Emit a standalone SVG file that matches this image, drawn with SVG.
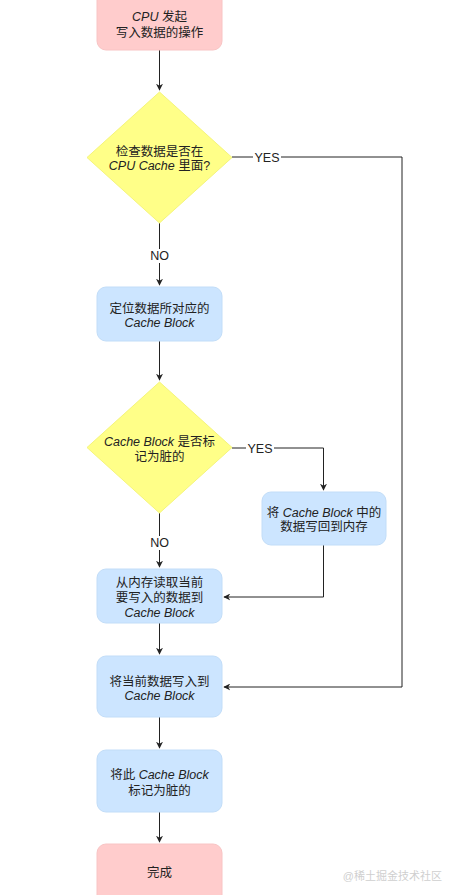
<svg xmlns="http://www.w3.org/2000/svg" width="456" height="895" viewBox="0 0 456 895">
<style>
.t{font-family:"Liberation Sans","Noto Sans CJK SC",sans-serif;font-size:12.5px;fill:#222;text-anchor:middle;dominant-baseline:central}
.l{font-family:"Liberation Sans","Noto Sans CJK SC",sans-serif;font-size:12.5px;fill:#222;text-anchor:middle;dominant-baseline:central}
.i{font-style:italic}
.pink{fill:#ffcccc;stroke:#f8c4c4;stroke-width:1}
.blue{fill:#cce5ff;stroke:#c2ddf8;stroke-width:1}
.yel{fill:#ffff88;stroke:#f5f57a;stroke-width:1}
.c{fill:none;stroke:#222;stroke-width:1}
</style>
<defs>
<marker id="a" viewBox="0 0 10 10" refX="9" refY="5" markerWidth="7" markerHeight="7" markerUnits="userSpaceOnUse" orient="auto">
<path d="M0,0 L10,5 L0,10 L3,5 Z" fill="#222"/>
</marker>
</defs>
<rect width="456" height="895" fill="#ffffff"/>
<g id="connectors">
<path class="c" d="M159.5,50 V90" marker-end="url(#a)"/>
<path class="c" d="M159.5,223 V285" marker-end="url(#a)"/>
<path class="c" d="M159.5,341 V380" marker-end="url(#a)"/>
<path class="c" d="M159.5,513 V567" marker-end="url(#a)"/>
<path class="c" d="M159.5,623 V654" marker-end="url(#a)"/>
<path class="c" d="M159.5,717 V748" marker-end="url(#a)"/>
<path class="c" d="M159.5,812 V842" marker-end="url(#a)"/>
<path class="c" d="M232,157 H402 V687 H224" marker-end="url(#a)"/>
<path class="c" d="M232,448 H323.5 V490" marker-end="url(#a)"/>
<path class="c" d="M323.5,545 V597 H224" marker-end="url(#a)"/>
<rect x="253" y="150" width="28" height="14" fill="#fff"/>
<text class="l" x="267" y="157.5">YES</text>
<rect x="147" y="249" width="25" height="14" fill="#fff"/>
<text class="l" x="159.5" y="256">NO</text>
<rect x="246" y="441" width="28" height="14" fill="#fff"/>
<text class="l" x="260" y="448.5">YES</text>
<rect x="147" y="536" width="25" height="14" fill="#fff"/>
<text class="l" x="159.5" y="543">NO</text>
</g>
<g id="start">
<rect class="pink" x="97" y="-12" width="125" height="62" rx="9"/>
<text class="t" x="159.5" y="17"><tspan class="i">CPU</tspan> 发起</text>
<text class="t" x="159.5" y="33">写入数据的操作</text>
</g>
<g id="check-cache">
<path class="yel" d="M159.5,92 L232,157.5 L159.5,223 L87,157.5 Z"/>
<text class="t" x="159.5" y="152">检查数据是否在</text>
<text class="t" x="159.5" y="166"><tspan class="i">CPU Cache</tspan> 里面?</text>
</g>
<g id="locate-block">
<rect class="blue" x="97" y="287" width="125" height="54" rx="9"/>
<text class="t" x="159.5" y="309">定位数据所对应的</text>
<text class="t i" x="159.5" y="323">Cache Block</text>
</g>
<g id="check-dirty">
<path class="yel" d="M159.5,382 L232,447.5 L159.5,513 L87,447.5 Z"/>
<text class="t" x="159.5" y="442"><tspan class="i">Cache Block</tspan> 是否标</text>
<text class="t" x="159.5" y="457">记为脏的</text>
</g>
<g id="write-back">
<rect class="blue" x="262" y="492" width="124" height="53" rx="9"/>
<text class="t" x="324" y="513">将 <tspan class="i">Cache Block</tspan> 中的</text>
<text class="t" x="324" y="527">数据写回到内存</text>
</g>
<g id="read-memory">
<rect class="blue" x="97" y="569" width="125" height="54" rx="9"/>
<text class="t" x="159.5" y="583">从内存读取当前</text>
<text class="t" x="159.5" y="598">要写入的数据到</text>
<text class="t i" x="159.5" y="613">Cache Block</text>
</g>
<g id="write-data">
<rect class="blue" x="97" y="656" width="125" height="61" rx="9"/>
<text class="t" x="159.5" y="682">将当前数据写入到</text>
<text class="t i" x="159.5" y="696">Cache Block</text>
</g>
<g id="mark-dirty">
<rect class="blue" x="97" y="750" width="125" height="62" rx="9"/>
<text class="t" x="159.5" y="775">将此 <tspan class="i">Cache Block</tspan></text>
<text class="t" x="159.5" y="791">标记为脏的</text>
</g>
<g id="done">
<rect class="pink" x="97" y="844" width="125" height="62" rx="9"/>
<text class="t" x="159.5" y="873">完成</text>
</g>
<text x="442" y="876" font-family="Liberation Sans,Noto Sans CJK SC,sans-serif" font-size="11" fill="#cfcfcf" text-anchor="end" dominant-baseline="central">@稀土掘金技术社区</text>
</svg>
